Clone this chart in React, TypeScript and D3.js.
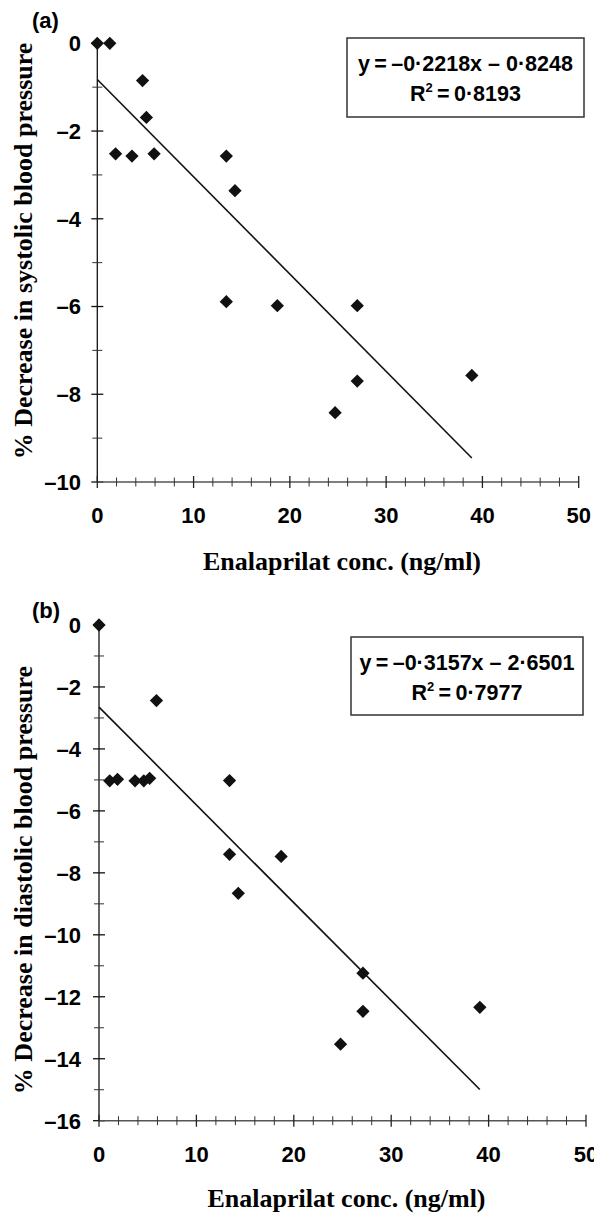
import * as d3 from "d3";

// concentration (ng/ml) and % change
const concA = [0, 1.3, 4.7, 5.1, 1.9, 3.6, 5.9, 13.4, 14.3, 13.4, 18.7, 27.0, 27.0, 24.7, 38.9];
const systolic = [0, 0, -0.85, -1.69, -2.52, -2.57, -2.52, -2.57, -3.36, -5.89, -5.98, -5.98, -7.7, -8.42, -7.57];

const concB = [0, 1.1, 1.9, 3.7, 4.6, 5.2, 5.9, 13.4, 13.4, 18.7, 14.3, 27.1, 27.1, 24.8, 39.1];
const diastolic = [0, -5.03, -4.98, -5.03, -5.03, -4.95, -2.44, -5.02, -7.4, -7.47, -8.66, -11.24, -12.47, -13.53, -12.34];

const fitA = { slope: -0.2218, intercept: -0.8248, r2: "0·8193", eq: "y\u2009=\u2009–0·2218x – 0·8248" };
const fitB = { slope: -0.3157, intercept: -2.6501, r2: "0·7977", eq: "y\u2009=\u2009–0·3157x – 2·6501" };

const xTicks = [0, 10, 20, 30, 40, 50];
const yTicksA = [0, -2, -4, -6, -8, -10];
const yTicksB = [0, -2, -4, -6, -8, -10, -12, -14, -16];

const sans = "'Liberation Sans', Arial, sans-serif";
const serif = "'Liberation Serif', 'Times New Roman', serif";

function Panel({ tag, tagY, xs, ys, fit, yTicks, yMin, xRange, yRange, yTitle, yTitleC, xTitleY, box }) {
  const x = d3.scaleLinear().domain([0, 50]).range(xRange);
  const y = d3.scaleLinear().domain([yMin, 0]).range(yRange);
  const x0 = x(0);
  const yBase = y(yMin);
  const minorX = d3.range(0, 51, 2).filter((v) => v % 10 !== 0);
  const minorY = d3.range(yMin + 1, 0, 2);
  const xMax = d3.max(xs);
  const diamond = d3.symbol(d3.symbolSquare, 88)();

  return (
    <g>
      <text x={32} y={tagY} fontFamily={sans} fontWeight="bold" fontSize={22}>{tag}</text>

      {/* y axis */}
      <line x1={x0} x2={x0} y1={y(0)} y2={yBase} stroke="#111" strokeWidth={1.3} />
      {yTicks.map((t) => (
        <g key={t}>
          <line x1={x0 - 6} x2={x0 + 6} y1={y(t)} y2={y(t)} stroke="#111" strokeWidth={1.3} />
          <text x={81} y={y(t)} dy="0.36em" textAnchor="end" fontFamily={sans} fontWeight="bold" fontSize={22}>
            {t < 0 ? "–" + Math.abs(t) : t}
          </text>
        </g>
      ))}
      {minorY.map((t) => (
        <line key={t} x1={x0 - 5} x2={x0 + 5} y1={y(t)} y2={y(t)} stroke="#333" strokeWidth={1} />
      ))}

      {/* x axis */}
      <line x1={x0} x2={x(50)} y1={yBase} y2={yBase} stroke="#555" strokeWidth={1.5} />
      {xTicks.map((t) => (
        <g key={t}>
          <line x1={x(t)} x2={x(t)} y1={yBase - 6} y2={yBase + 6} stroke="#222" strokeWidth={1.3} />
          <text x={x(t)} y={yBase + 41} textAnchor="middle" fontFamily={sans} fontWeight="bold" fontSize={22}>{t}</text>
        </g>
      ))}
      {minorX.map((t) => (
        <line key={t} x1={x(t)} x2={x(t)} y1={yBase - 4.5} y2={yBase + 4.5} stroke="#333" strokeWidth={1} />
      ))}

      {/* fitted line */}
      <line
        x1={x(0)}
        y1={y(fit.intercept)}
        x2={x(xMax)}
        y2={y(fit.slope * xMax + fit.intercept)}
        stroke="#111"
        strokeWidth={1.6}
      />

      {/* points */}
      {xs.map((v, i) => (
        <path key={i} d={diamond} transform={`translate(${x(v)},${y(ys[i])}) rotate(45)`} fill="#111" />
      ))}

      {/* equation box */}
      <rect x={box.x} y={box.y} width={box.w} height={box.h} fill="#fff" stroke="#333" strokeWidth={1.5} />
      <text x={box.x + box.w / 2} y={box.y + 33} textAnchor="middle" fontFamily={sans} fontWeight="bold" fontSize={21.5}>
        {fit.eq}
      </text>
      <text x={box.x + box.w / 2} y={box.y + 63} textAnchor="middle" fontFamily={sans} fontWeight="bold" fontSize={21.5}>
        R<tspan dy={-9} fontSize={13}>2</tspan>
        <tspan dy={9}>{"\u2009=\u2009" + fit.r2}</tspan>
      </text>

      {/* axis titles */}
      <text
        transform={`translate(32,${yTitleC}) rotate(-90)`}
        textAnchor="middle"
        fontFamily={serif}
        fontWeight="bold"
        fontSize={26}
      >
        {yTitle}
      </text>
      <text x={(xRange[0] + xRange[1]) / 2 + 4} y={xTitleY} textAnchor="middle" fontFamily={serif} fontWeight="bold" fontSize={26}>
        Enalaprilat conc. (ng/ml)
      </text>
    </g>
  );
}

export default function App() {
  return (
    <svg width={594} height={1215} style={{ position: "absolute", left: 0, top: 0, background: "#fff" }}>
      <Panel
        tag="(a)"
        tagY={28}
        xs={concA}
        ys={systolic}
        fit={fitA}
        yTicks={yTicksA}
        yMin={-10}
        xRange={[97.3, 578.7]}
        yRange={[482, 43.3]}
        yTitle="% Decrease in systolic blood pressure"
        yTitleC={251}
        xTitleY={570}
        box={{ x: 347, y: 38, w: 237, h: 79 }}
      />
      <Panel
        tag="(b)"
        tagY={618}
        xs={concB}
        ys={diastolic}
        fit={fitB}
        yTicks={yTicksB}
        yMin={-16}
        xRange={[99, 586]}
        yRange={[1120.7, 625]}
        yTitle="% Decrease in diastolic blood pressure"
        yTitleC={880}
        xTitleY={1207}
        box={{ x: 351, y: 637, w: 232, h: 78 }}
      />
    </svg>
  );
}
